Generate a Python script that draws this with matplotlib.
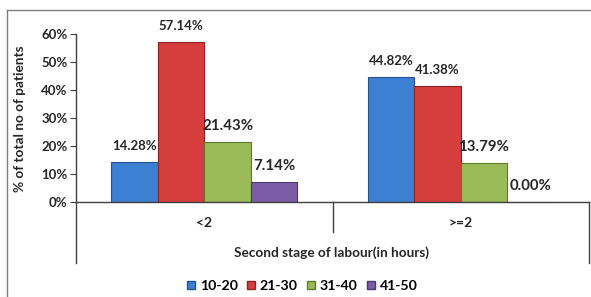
import numpy as np
import matplotlib
matplotlib.use("Agg")
import matplotlib.pyplot as plt
from matplotlib.lines import Line2D

plt.rcParams['font.family'] = ['Lato', 'DejaVu Sans']

categories = ["<2", ">=2"]
age_groups = ["10-20", "21-30", "31-40", "41-50"]
values = {
    "10-20": [14.28, 44.82],
    "21-30": [57.14, 41.38],
    "31-40": [21.43, 13.79],
    "41-50": [7.14, 0.00],
}
colors = ["#3D7FD3", "#D63E3E", "#9BBB59", "#7B5CA6"]
edges = ["#24548F", "#8E2222", "#5E7A2C", "#4B3770"]
label_sizes = {"10-20": 9.5, "21-30": 9.5, "31-40": 10.8, "41-50": 10.8}

fig = plt.figure(figsize=(5.91, 2.97), dpi=100)
ax = fig.add_axes([76 / 591, 1 - 202 / 297, 513 / 591, 168 / 297])

width = 0.181
x = np.arange(len(categories)) + 0.5
for i, g in enumerate(age_groups):
    pos = x + (i - 1.5) * width
    vals = np.array(values[g]) / 100
    ax.bar(pos, vals, width, color=colors[i], edgecolor=edges[i], linewidth=0.8)
    for p, v, raw in zip(pos, vals, values[g]):
        ax.annotate(f"{raw:.2f}%", (p, v), xytext=(0, 11.5), textcoords="offset points",
                    ha="center", va="center", fontsize=label_sizes[g],
                    fontweight="bold", color="#262626")

ax.set_xlim(0, 2)
ax.set_ylim(0, 0.6)
ax.set_yticks(np.arange(0, 0.61, 0.1))
ax.set_yticklabels([f"{int(round(t * 100))}%" for t in np.arange(0, 0.61, 0.1)],
                   fontsize=9.5, fontweight="bold", color="#262626")
ax.tick_params(axis="y", length=4, width=0.8, color="#404040", pad=2)
ax.set_xticks([])
for s in ["top", "right"]:
    ax.spines[s].set_visible(False)
ax.spines["left"].set_color("#404040")
ax.spines["bottom"].set_color("#404040")
ax.spines["left"].set_linewidth(1)
ax.spines["bottom"].set_linewidth(1)

# category axis dividers below the zero line
tr = ax.get_xaxis_transform()
ax.plot([0, 0], [0, -0.363], transform=tr, color="#404040", lw=1, clip_on=False)
ax.plot([1, 1], [0, -0.179], transform=tr, color="#404040", lw=1, clip_on=False)
ax.plot([2, 2], [0, -0.363], transform=tr, color="#404040", lw=1, clip_on=False)

for c, xc in zip(categories, x):
    ax.text(xc, -0.125, c, transform=tr, ha="center", va="center",
            fontsize=10, fontweight="bold", color="#262626")

fig.text(332 / 591, 1 - 253 / 297, "Second stage of labour(in hours)", ha="center",
         va="center", fontsize=9.8, fontweight="bold", color="#262626")
fig.text(20 / 591, 1 - 119 / 297, "% of total no of patients", rotation=90, ha="center",
         va="center", fontsize=9.8, fontweight="bold", color="#262626")

handles = [Line2D([], [], marker="s", linestyle="", markersize=6,
                  markerfacecolor=colors[i], markeredgecolor=edges[i])
           for i in range(len(age_groups))]
fig.legend(handles, age_groups, loc="center", bbox_to_anchor=(302 / 591, 1 - 286 / 297),
           ncol=4, frameon=False, handlelength=0.7, handletextpad=0.25,
           columnspacing=0.6, prop={"weight": "bold", "size": 10.2})

# outer chart border
fig.add_artist(Line2D([7 / 591, 7 / 591], [0, 1 - 10 / 297], color="#7F7F7F", lw=1,
                      transform=fig.transFigure))
fig.add_artist(Line2D([7 / 591, 1], [1 - 10 / 297, 1 - 10 / 297], color="#7F7F7F", lw=1,
                      transform=fig.transFigure))

fig.savefig("out.png", dpi=100)
